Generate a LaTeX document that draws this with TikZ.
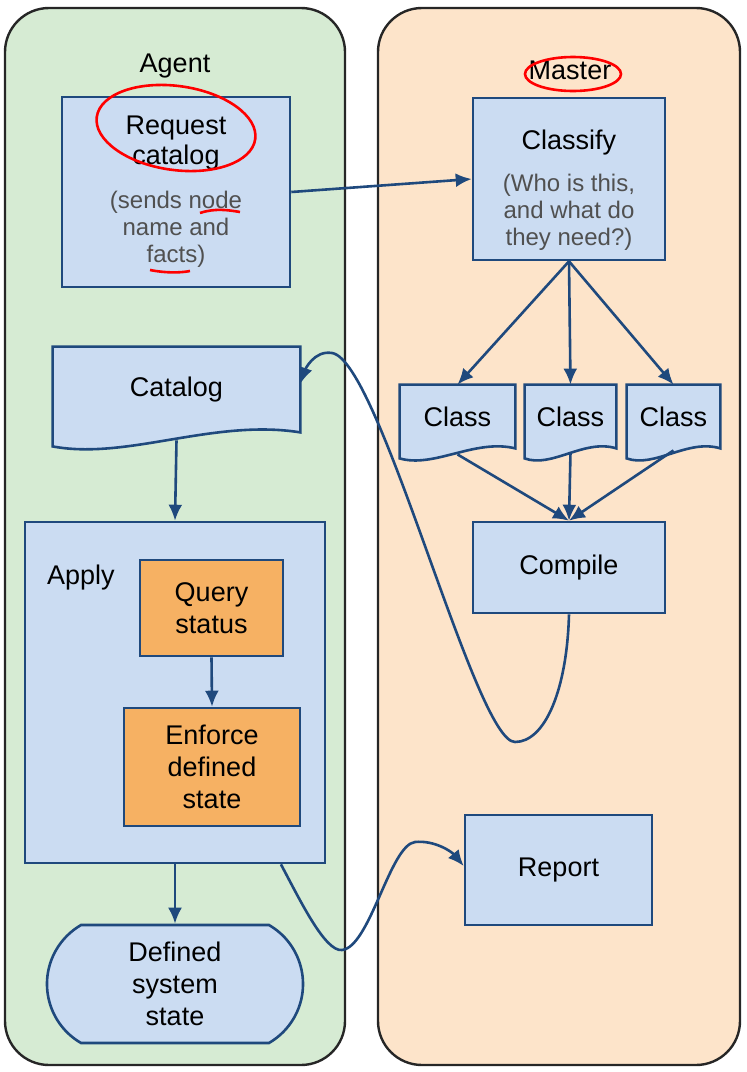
\documentclass[tikz,border=0pt]{standalone}
\usepackage{fontspec}
\setmainfont{Liberation Sans}
\usetikzlibrary{arrows.meta,calc,shapes.misc,backgrounds}

\definecolor{lanegreen}{HTML}{D6EBD3}
\definecolor{lanepeach}{HTML}{FDE4CA}
\definecolor{boxblue}{HTML}{CBDCF2}
\definecolor{boxline}{HTML}{1F497D}
\definecolor{taskorange}{HTML}{F6B163}
\definecolor{subgray}{HTML}{505050}

% document shape with a wavy lower edge, drawn round a node
\newcommand{\docoutline}[2]{%
  \path[docline] (#1.north west) -- (#1.north east) -- (#1.south east)
    .. controls ($(#1.south east)!0.35!(#1.south west)+(0,#2)$)
    and ($(#1.south east)!0.7!(#1.south west)-(0,2*#2)$)
    .. ($(#1.south west)-(0,#2)$) -- cycle;}
\newcommand{\subline}[1]{{\color{subgray}\fontsize{12}{13.5}\selectfont #1}}

\begin{document}
\begin{tikzpicture}[
  x=0.5pt, y=-0.5pt,
  font=\fontsize{13.5}{16}\selectfont,
  lane/.style={draw=black!85, line width=1.2pt, rounded corners=22pt, minimum height=528.5pt},
  box/.style={draw=boxline, fill=boxblue, line width=1.3pt, align=center, inner sep=0pt},
  task/.style={box, fill=taskorange},
  doc/.style={align=center, inner sep=0pt},
  docline/.style={draw=boxline, fill=boxblue, line width=1.3pt},
  flow/.style={-{Latex[length=8pt,width=7pt]}, draw=boxline, line width=1.3pt},
  penmark/.style={draw=red, line width=1.3pt}
]
\useasboundingbox (0,0) rectangle (746,1072);

\begin{scope}[on background layer]
\node[lane, fill=lanegreen, minimum width=170pt] (agentlane) at (175,536.5) {};
\node[lane, fill=lanepeach, minimum width=181pt] (masterlane) at (559,536.5) {};
\end{scope}

\node (agentlbl) at (175,66) {Agent};
\node (masterlbl) at (570,70) {Master};

% agent side
\node[box, minimum width=114pt, minimum height=95pt] (request) at (176,192)
  {Request\\[-1pt]catalog\\[6pt]\subline{(sends node}\\[-2.5pt]\subline{name and}\\[-2.5pt]\subline{facts)}};
\node[doc, minimum width=123.5pt, minimum height=42.5pt] (catalog) at (176.5,389.5) {Catalog};
\node[box, minimum width=150pt, minimum height=170.5pt] (apply) at (175,692.5) {};
\node[anchor=west] (applylbl) at (40,578) {Apply};
\node[task, minimum width=71.5pt, minimum height=48pt] (query) at (211.5,608) {Query\\status};
\node[task, minimum width=88pt, minimum height=59pt] (enforce) at (212,767) {Enforce\\defined\\state};
\node[box, rounded rectangle, rounded rectangle arc length=120, minimum width=128pt, minimum height=59pt] (defined) at (175,984) {Defined\\system\\state};

% master side
\node[box, minimum width=96pt, minimum height=81pt] (classify) at (569,179)
  {\rule{0pt}{21pt}Classify\\[5pt]\subline{(Who is this,}\\[-2.5pt]\subline{and what do}\\[-2.5pt]\subline{they need?)}};
\node[doc, minimum width=57.5pt, minimum height=31.5pt] (class1) at (457.5,416.5) {Class};
\node[doc, minimum width=45.5pt, minimum height=31.5pt] (class2) at (570.5,416.5) {Class};
\node[doc, minimum width=46.5pt, minimum height=31.5pt] (class3) at (673.5,416.5) {Class};
\node[box, minimum width=96pt, minimum height=45.5pt] (compile) at (569,567.5) {Compile};
\node[box, minimum width=93.5pt, minimum height=55pt] (report) at (558.5,870) {Report};

\begin{scope}[on background layer]
\docoutline{catalog}{7pt}
\docoutline{class1}{5pt}
\docoutline{class2}{5pt}
\docoutline{class3}{5pt}
\end{scope}

\draw[flow] (request.east) -- (classify.west);
\draw[flow] (classify.south) -- (class1.north);
\draw[flow] (classify.south) -- (class2.north);
\draw[flow] (classify.south) -- (class3.north);
\draw[flow] ($(class1.south)+(0,-3pt)$) -- (compile.north);
\draw[flow] ($(class2.south)+(0,-2pt)$) -- (compile.north);
\draw[flow] ($(class3.south)+(0,-1pt)$) -- (compile.north);
\draw[flow] ($(catalog.south)+(0,-4pt)$) -- (apply.north);
\draw[flow] (query.south) -- (enforce.north);
\draw[flow] (apply.south) -- (defined.north);

\draw[flow] (compile.south) .. controls (567,690) and (545,742) .. (515,742)
  .. controls (475,742) and (380,360) .. (332,353)
  .. controls (314,350) and (305,370) .. ([yshift=3pt]catalog.east);
\draw[flow] ($(apply.south west)!0.85!(apply.south east)$) .. controls (300,900) and (325,952) .. (342,950)
  .. controls (370,947) and (390,845) .. (415,842)
  .. controls (435,840) and (452,852) .. ([yshift=2pt]report.west);

% red pen marks
\draw[penmark, rotate around={-8:(176,128)}] (176,128) ellipse (40pt and 21pt);
\draw[penmark] (200,213) .. controls (215,208) and (228,210) .. (240,212);
\draw[penmark] (150,270) .. controls (165,273) and (180,273) .. (190,271);
\draw[penmark] (573,74) ellipse (24pt and 8.5pt);
\end{tikzpicture}
\end{document}
